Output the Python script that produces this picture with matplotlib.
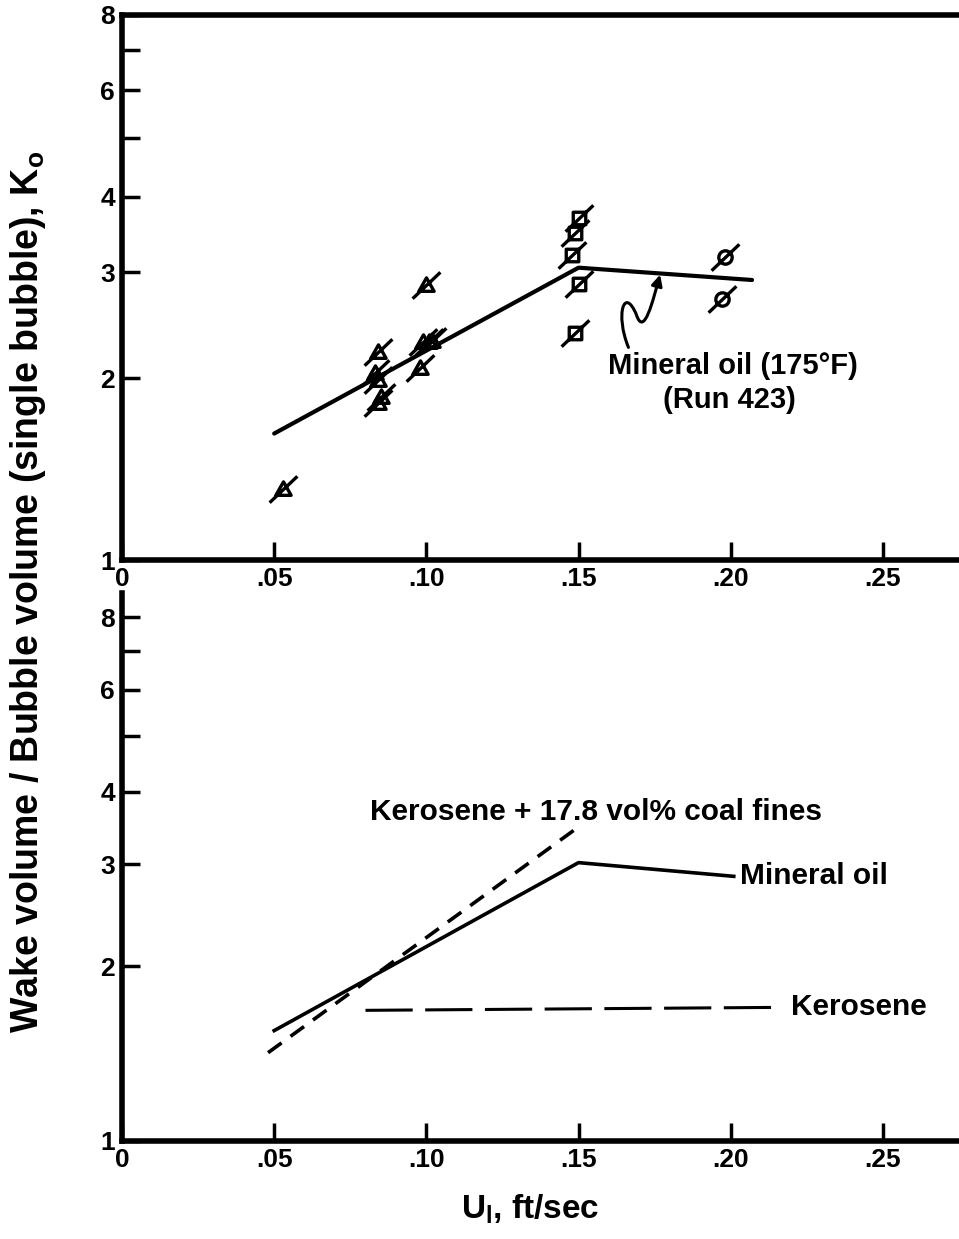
import numpy as np
import matplotlib
matplotlib.use("Agg")
import matplotlib.pyplot as plt
from matplotlib.path import Path
from matplotlib.patches import FancyArrowPatch
from matplotlib.ticker import FixedLocator, NullFormatter, FixedFormatter

plt.rcParams["font.family"] = ["Liberation Sans", "DejaVu Sans"]
plt.rcParams["font.weight"] = "bold"
plt.rcParams["mathtext.fontset"] = "custom"
plt.rcParams["mathtext.rm"] = "Liberation Sans:bold"
plt.rcParams["mathtext.it"] = "Liberation Sans:bold"
plt.rcParams["mathtext.bf"] = "Liberation Sans:bold"
plt.rcParams["lines.scale_dashes"] = False

# top panel: Run 423 data (mineral oil, 175 F)
tri_x = [0.053, 0.084, 0.083, 0.084, 0.085, 0.084, 0.100, 0.099, 0.101, 0.102, 0.098]
tri_y = [1.31, 2.21, 2.04, 1.99, 1.86, 1.82, 2.86, 2.30, 2.30, 2.31, 2.08]
sq_x = [0.150, 0.149, 0.148, 0.150, 0.149]
sq_y = [3.68, 3.48, 3.20, 2.87, 2.38]
circ_x = [0.198, 0.197]
circ_y = [3.18, 2.71]
fit_x = [0.05, 0.15, 0.207]
fit_y = [1.62, 3.05, 2.91]

# bottom panel: correlation lines
oil_x = [0.05, 0.15, 0.201]
oil_y = [1.55, 3.02, 2.86]
coal_x = [0.048, 0.149]
coal_y = [1.42, 3.45]
kero_x = [0.080, 0.217]
kero_y = [1.68, 1.70]

x_ticks = [0, 0.05, 0.10, 0.15, 0.20, 0.25]
x_labels = ["0", ".05", ".10", ".15", ".20", ".25"]
y_major = [1, 2, 3, 4, 6, 8]
y_minor = [5, 7]


def slashed(shape):
    slash = Path([(-1.0, -0.95), (1.0, 0.95)], [Path.MOVETO, Path.LINETO])
    if shape == "tri":
        body = Path([(-0.55, -0.42), (0.55, -0.42), (0.0, 0.55), (-0.55, -0.42)],
                    [Path.MOVETO, Path.LINETO, Path.LINETO, Path.CLOSEPOLY])
    elif shape == "sq":
        body = Path([(-0.45, -0.45), (0.45, -0.45), (0.45, 0.45), (-0.45, 0.45), (-0.45, -0.45)],
                    [Path.MOVETO, Path.LINETO, Path.LINETO, Path.LINETO, Path.CLOSEPOLY])
    else:
        body = Path.circle((0, 0), 0.48)
    return Path.make_compound_path(body, slash)


def style_axes(ax, top_spine):
    ax.set_yscale("log")
    ax.set_xlim(0, 0.275)
    for side in ["left", "bottom", "top"]:
        ax.spines[side].set_linewidth(4)
    ax.spines["right"].set_visible(False)
    ax.spines["top"].set_visible(top_spine)
    ax.xaxis.set_major_locator(FixedLocator(x_ticks))
    ax.xaxis.set_major_formatter(FixedFormatter(x_labels))
    ax.yaxis.set_major_locator(FixedLocator(y_major))
    ax.yaxis.set_major_formatter(FixedFormatter([str(v) for v in y_major]))
    ax.yaxis.set_minor_locator(FixedLocator(y_minor))
    ax.yaxis.set_minor_formatter(NullFormatter())
    ax.tick_params(axis="both", which="both", direction="in", width=2.5,
                   length=13, labelsize=19, top=False, right=False)
    ax.tick_params(axis="y", which="major", pad=5)
    ax.tick_params(axis="x", which="major", pad=5)
    for lab in ax.get_xticklabels() + ax.get_yticklabels():
        lab.set_fontweight("bold")


fig = plt.figure(figsize=(9.59, 12.39), dpi=100)
ax1 = fig.add_axes([0.1272, 0.548, 0.8728, 0.440])
ax2 = fig.add_axes([0.1272, 0.0791, 0.8728, 0.4423])

# top panel
ax1.plot(fit_x, fit_y, color="black", lw=3, solid_capstyle="round")
mk = dict(ls="none", ms=20, mec="black", mfc="none", mew=2.4)
ax1.plot(tri_x, tri_y, marker=slashed("tri"), **mk)
ax1.plot(sq_x, sq_y, marker=slashed("sq"), **mk)
ax1.plot(circ_x, circ_y, marker=slashed("circ"), **mk)
ax1.set_ylim(1, 8)
style_axes(ax1, True)

squiggle = Path([(0.1664, 2.25), (0.1620, 2.55), (0.1650, 2.85), (0.1690, 2.55),
                 (0.1715, 2.33), (0.1745, 2.70), (0.1768, 2.97)],
                [Path.MOVETO, Path.CURVE4, Path.CURVE4, Path.CURVE4,
                 Path.CURVE4, Path.CURVE4, Path.CURVE4])
arrow = FancyArrowPatch(path=squiggle, transform=ax1.transData, arrowstyle="-|>",
                        mutation_scale=16, lw=2.2, color="black")
ax1.add_patch(arrow)
ax1.text(0.1597, 2.10, "Mineral oil (175\u00b0F)", fontsize=21, fontweight="bold",
         ha="left", va="center")
ax1.text(0.1777, 1.84, "(Run 423)", fontsize=21, fontweight="bold",
         ha="left", va="center")

# bottom panel
ax2.plot(oil_x, oil_y, color="black", lw=2.6)
ax2.plot(coal_x, coal_y, color="black", lw=2.6, dashes=(12, 8))
ax2.plot(kero_x, kero_y, color="black", lw=2.2, dashes=(34, 9))
ax2.set_ylim(1, 8.81)
style_axes(ax2, False)

ax2.text(0.0815, 3.69, "Kerosene + 17.8 vol% coal fines", fontsize=21.5,
         fontweight="bold", ha="left", va="center")
ax2.text(0.2030, 2.86, "Mineral oil", fontsize=21.5, fontweight="bold",
         ha="left", va="center")
ax2.text(0.2198, 1.70, "Kerosene", fontsize=21.5, fontweight="bold",
         ha="left", va="center")

fig.text(0.029, 0.522, r"Wake volume / Bubble volume (single bubble), K$_\mathrm{o}$",
         rotation=90, ha="center", va="center", fontsize=27, fontweight="bold")
fig.text(0.553, 0.024, r"U$_\mathrm{l}$, ft/sec", ha="center", va="center",
         fontsize=24, fontweight="bold")

fig.savefig("out.png", dpi=100)
